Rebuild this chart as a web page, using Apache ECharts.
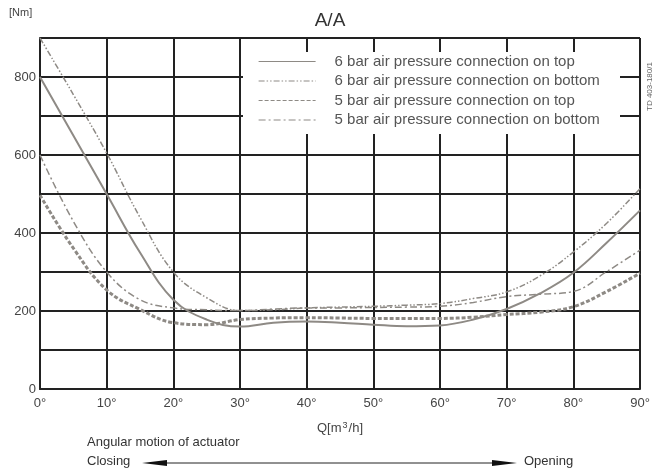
<!DOCTYPE html>
<html>
<head>
<meta charset="utf-8">
<script src="https://cdn.jsdelivr.net/npm/echarts@6/dist/echarts.min.js"></script>
<style>html,body{margin:0;padding:0;background:#fff;}#c{width:660px;height:476px;}</style>
</head>
<body>
<div id="c"></div>
<script>
// angle positions (degrees)
var angles = [0,5,10,15,20,25,30,35,40,45,50,55,60,65,70,75,80,85,90];
var seriesNames = [
  '6 bar air pressure connection on top',
  '6 bar air pressure connection on bottom',
  '5 bar air pressure connection on top',
  '5 bar air pressure connection on bottom'
];
var bar6Top    = [800,650,500,350,229,178,160,170,173,170,165,161,163,178,205,245,298,375,458];
var bar6Bottom = [900,755,605,440,300,234,201,203,208,210,212,215,219,232,249,290,351,425,514];
var bar5Top    = [497,361,254,204,170,165,178,182,183,182,181,181,181,184,191,197,211,250,297];
var bar5Bottom = [600,430,300,229,208,203,201,205,208,208,209,210,212,222,237,243,250,301,356];
var xTicks = [0,10,20,30,40,50,60,70,80,90];
var yTickLabels = [0,200,400,600,800];

function pairs(vals){ return angles.map(function(a,i){ return [a, vals[i]]; }); }

var grey = '#8e8a85';
var font = "'Liberation Sans', Arial, sans-serif";
var chart = echarts.init(document.getElementById('c'), null, {renderer:'canvas'});
chart.setOption({
  animation: false,
  backgroundColor: '#fff',
  title: { text: 'A/A', left: 'center', top: 6, textStyle: { fontFamily: font, fontSize: 19, fontWeight: 'normal', color: '#333' } },
  grid: { left: 40, right: 20, top: 38, bottom: 87 },
  legend: {
    orient: 'vertical', left: 258, top: 54, padding: 0, z: 10,
    itemWidth: 57, itemHeight: 14, itemGap: 4.5,
    data: seriesNames,
    itemStyle: { opacity: 0 },
    lineStyle: { width: 1.2 },
    textStyle: { fontFamily: font, fontSize: 15, color: '#555', padding: [0,0,0,14] }
  },
  xAxis: {
    type: 'value', min: 0, max: 90, interval: 10,
    axisLine: { show: true, lineStyle: { color: '#222', width: 2 } },
    axisTick: { show: false },
    splitLine: { show: true, lineStyle: { color: '#222', width: 2 } },
    axisLabel: { margin: 8, color: '#444', fontFamily: font, fontSize: 13,
      formatter: function(v){ return xTicks.indexOf(v) >= 0 ? v + '°' : ''; } },
    name: '{a|Q[m}{s|3}{a|/h]}', nameLocation: 'middle', nameGap: 32,
    nameTextStyle: { rich: { a: { fontFamily: font, fontSize: 13, color: '#444' }, s: { fontFamily: font, fontSize: 9, color: '#444', verticalAlign: 'top', padding: [0,1,6,1] } } }
  },
  yAxis: {
    type: 'value', min: 0, max: 900, interval: 100,
    axisLine: { show: true, lineStyle: { color: '#222', width: 2 } },
    axisTick: { show: false },
    splitLine: { show: true, lineStyle: { color: '#222', width: 2 } },
    axisLabel: { margin: 4, color: '#444', fontFamily: font, fontSize: 13,
      formatter: function(v){ return yTickLabels.indexOf(v) >= 0 ? String(v) : ''; } }
  },
  graphic: [
    { type: 'rect', z: 5, shape: { x: 243, y: 52, width: 377, height: 82 }, style: { fill: '#fff' } },
    { type: 'text', left: 9, top: 7, style: { text: '[Nm]', fill: '#444', font: '11px ' + font } },
    { type: 'text', x: 646, y: 111, rotation: Math.PI/2, style: { text: 'TD 403-180/1', fill: '#666', font: '8px ' + font } },
    { type: 'text', left: 87, top: 436, style: { text: 'Angular motion of actuator', fill: '#333', font: '13px ' + font } },
    { type: 'text', left: 87, top: 455, style: { text: 'Closing', fill: '#333', font: '13px ' + font } },
    { type: 'text', left: 524, top: 455, style: { text: 'Opening', fill: '#333', font: '13px ' + font } },
    { type: 'line', shape: { x1: 150, y1: 463, x2: 505, y2: 463 }, style: { stroke: '#222', lineWidth: 1 } },
    { type: 'polygon', shape: { points: [[142,463],[167,460],[167,466]] }, style: { fill: '#111' } },
    { type: 'polygon', shape: { points: [[517,463],[492,460],[492,466]] }, style: { fill: '#111' } }
  ],
  series: [
    { name: seriesNames[0], type: 'line', data: pairs(bar6Top), smooth: 0.4, symbol: 'none', z: 3,
      lineStyle: { color: grey, width: 2, type: 'solid' }, itemStyle: { color: grey } },
    { name: seriesNames[1], type: 'line', data: pairs(bar6Bottom), smooth: 0.4, symbol: 'none', z: 3,
      lineStyle: { color: grey, width: 1.5, type: [6,2,1.5,2,1.5,2] }, itemStyle: { color: grey } },
    { name: seriesNames[2], type: 'line', data: pairs(bar5Top), smooth: 0.4, symbol: 'none', z: 3,
      lineStyle: { color: grey, width: 3, type: [4,2] }, itemStyle: { color: grey } },
    { name: seriesNames[3], type: 'line', data: pairs(bar5Bottom), smooth: 0.4, symbol: 'none', z: 3,
      lineStyle: { color: grey, width: 1.5, type: [7,3,2,3] }, itemStyle: { color: grey } }
  ]
});
</script>
</body>
</html>
